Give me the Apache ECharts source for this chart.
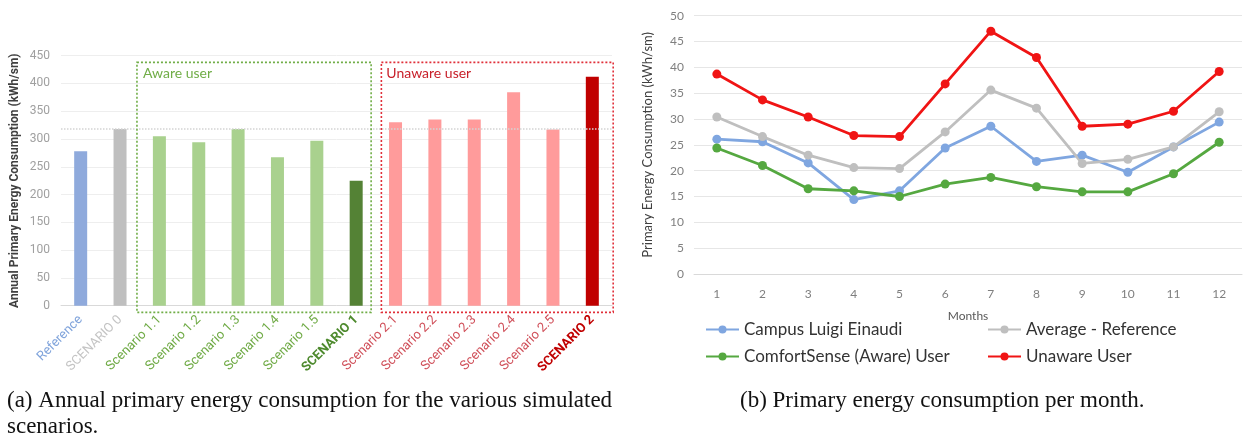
<!DOCTYPE html>
<html>
<head>
<meta charset="utf-8">
<script src="https://cdn.jsdelivr.net/npm/echarts@6/dist/echarts.min.js"></script>
<style>
html,body{margin:0;padding:0;background:#fff;}
#main{width:1243px;height:438px;}
</style>
</head>
<body>
<div id="main"></div>
<script>
// ---- data ----
const barCategories = ['Reference', 'SCENARIO 0', 'Scenario 1.1', 'Scenario 1.2', 'Scenario 1.3', 'Scenario 1.4', 'Scenario 1.5', 'SCENARIO 1', 'Scenario 2.1', 'Scenario 2.2', 'Scenario 2.3', 'Scenario 2.4', 'Scenario 2.5', 'SCENARIO 2'];
const barValues = [278, 318, 305, 294, 318, 267, 297, 225, 330, 335, 335, 384, 317, 412];
const months = ['1', '2', '3', '4', '5', '6', '7', '8', '9', '10', '11', '12'];
const campusValues = [26.1, 25.6, 21.5, 14.4, 16.1, 24.4, 28.6, 21.8, 23.0, 19.7, 24.6, 29.4];
const averageValues = [30.4, 26.6, 23.0, 20.6, 20.4, 27.5, 35.6, 32.1, 21.4, 22.2, 24.6, 31.4];
const comfortValues = [24.4, 21.0, 16.5, 16.1, 15.0, 17.4, 18.7, 16.9, 15.9, 15.9, 19.4, 25.5];
const unawareValues = [38.7, 33.7, 30.4, 26.8, 26.6, 36.8, 47.0, 41.9, 28.6, 29.0, 31.5, 39.2];
const seriesNames = ['Campus Luigi Einaudi', 'Average - Reference', 'ComfortSense (Aware) User', 'Unaware User'];
const groupLabels = ['Aware user', 'Unaware user'];
const captions = ['(a) Annual primary energy consumption for the various simulated\nscenarios.', '(b) Primary energy consumption per month.'];

// ---- styles ----
const barColors = ['#8FAADC', '#BFBFBF', '#A9D18E', '#A9D18E', '#A9D18E', '#A9D18E', '#A9D18E', '#548235', '#FF9B9B', '#FF9B9B', '#FF9B9B', '#FF9B9B', '#FF9B9B', '#C00000'];
const labelColors = ['#7FA3DB', '#C4C4C4', '#6FAA45', '#6FAA45', '#6FAA45', '#6FAA45', '#6FAA45', '#4E8A2E', '#D0505A', '#D0505A', '#D0505A', '#D0505A', '#D0505A', '#C00000'];
const labelBold = [false, false, false, false, false, false, false, true, false, false, false, false, false, true];
const lineColors = ['#7FA6E0', '#BFBFBF', '#55A840', '#F01414'];

const chart = echarts.init(document.getElementById('main'), null, {renderer: 'canvas'});

const lineData = [campusValues, averageValues, comfortValues, unawareValues];

const legendPos = [[700, 316], [982, 316], [700, 343], [982, 343]];

const option = {
  animation: false,
  backgroundColor: '#fff',
  textStyle: {fontFamily: 'Roboto'},
  title: [
    {text: captions[0], left: 2, top: 383, textStyle: {fontFamily: 'Liberation Serif', fontSize: 23, fontWeight: 'normal', color: '#111', lineHeight: 26}},
    {text: captions[1], left: 735, top: 383, textStyle: {fontFamily: 'Liberation Serif', fontSize: 23, fontWeight: 'normal', color: '#111', lineHeight: 26}}
  ],
  legend: seriesNames.map((n, i) => ({
    data: [n], left: legendPos[i][0], top: legendPos[i][1], itemWidth: 33, itemHeight: 10, itemGap: 0,
    textStyle: {fontFamily: 'Lato', fontSize: 17, color: '#333'}
  })),
  grid: [
    {left: 61, right: 631, top: 55.7, bottom: 132.3},
    {left: 694, right: 1, top: 15.7, bottom: 164}
  ],
  xAxis: [
    {
      type: 'category', gridIndex: 0,
      data: barCategories.map((c, i) => ({value: c, textStyle: {color: labelColors[i], fontWeight: labelBold[i] ? 'bold' : 'normal'}})),
      axisLine: {lineStyle: {color: '#D9D9D9'}}, axisTick: {show: false},
      axisLabel: {rotate: 45, fontSize: 13, fontFamily: 'Roboto', margin: 12, interval: 0}
    },
    {
      type: 'category', gridIndex: 1, data: months,
      name: 'Months', nameLocation: 'middle', nameGap: 36,
      nameTextStyle: {fontSize: 12, color: '#595959', fontFamily: 'Lato'},
      axisLine: {lineStyle: {color: '#D9D9D9'}}, axisTick: {show: false},
      axisLabel: {fontSize: 12, color: '#7F7F7F', fontFamily: 'Lato', margin: 14}
    }
  ],
  yAxis: [
    {
      type: 'value', gridIndex: 0, min: 0, max: 450, interval: 50,
      name: 'Annual Primary Energy Consumption (kWh/sm)', nameLocation: 'middle', nameGap: 40,
      nameTextStyle: {fontSize: 12, fontWeight: 'bold', color: '#404040', fontFamily: 'Roboto'},
      axisLine: {show: false}, axisTick: {show: false},
      axisLabel: {fontSize: 12, color: '#A0A0A0', margin: 11, fontFamily: 'Roboto'},
      splitLine: {lineStyle: {color: '#EEEEEE'}}
    },
    {
      type: 'value', gridIndex: 1, min: 0, max: 50, interval: 5,
      name: 'Primary Energy Consumption (kWh/sm)', nameLocation: 'middle', nameGap: 40,
      nameTextStyle: {fontSize: 13, color: '#404040', fontFamily: 'Lato'},
      axisLine: {show: false}, axisTick: {show: false},
      axisLabel: {fontSize: 12, color: '#7F7F7F', margin: 10, fontFamily: 'Lato'},
      splitLine: {lineStyle: {color: '#E6E6E6'}}
    }
  ],
  series: [
    {
      type: 'bar', xAxisIndex: 0, yAxisIndex: 0, barWidth: 13,
      data: barValues.map((v, i) => ({value: v, itemStyle: {color: barColors[i]}})),
      markLine: {
        silent: true, symbol: 'none', label: {show: false},
        lineStyle: {color: '#D4D4D4', type: 'dotted', width: 1.5},
        data: [{yAxis: barValues[1]}]
      }
    }
  ].concat(seriesNames.map((n, i) => ({
    name: n, type: 'line', xAxisIndex: 1, yAxisIndex: 1,
    data: lineData[i], symbol: 'circle', symbolSize: 9,
    lineStyle: {color: lineColors[i], width: 2.8},
    itemStyle: {color: lineColors[i]},
    z: i === 3 ? 5 : 3
  })))
};

chart.setOption(option);

// dotted group boxes, positioned through the axis scales
const cx = (i) => chart.convertToPixel({xAxisIndex: 0}, i);
const cy = (v) => chart.convertToPixel({yAxisIndex: 0}, v);
const step = cx(1) - cx(0);
const topY = cy(438), botY = cy(-12);
const gL = cx(2) - 0.57 * step, gR = cx(7) + 0.38 * step;
const rL = cx(8) - 0.36 * step, rR = cx(13) + 0.53 * step;
chart.setOption({
  graphic: [
    {type: 'rect', shape: {x: gL, y: topY, width: gR - gL, height: botY - topY}, style: {fill: 'none', stroke: '#70AD47', lineWidth: 1.6, lineDash: [2, 2]}, z: 10},
    {type: 'rect', shape: {x: rL, y: topY, width: rR - rL, height: botY - topY}, style: {fill: 'none', stroke: '#E0303A', lineWidth: 1.6, lineDash: [2, 2]}, z: 10},
    {type: 'text', x: gL + 6, y: topY + 4, style: {text: groupLabels[0], fill: '#70AD47', font: '14px Lato'}, z: 10},
    {type: 'text', x: rL + 5, y: topY + 4, style: {text: groupLabels[1], fill: '#C8202A', font: '14px Lato'}, z: 10}
  ]
});
</script>
</body>
</html>
